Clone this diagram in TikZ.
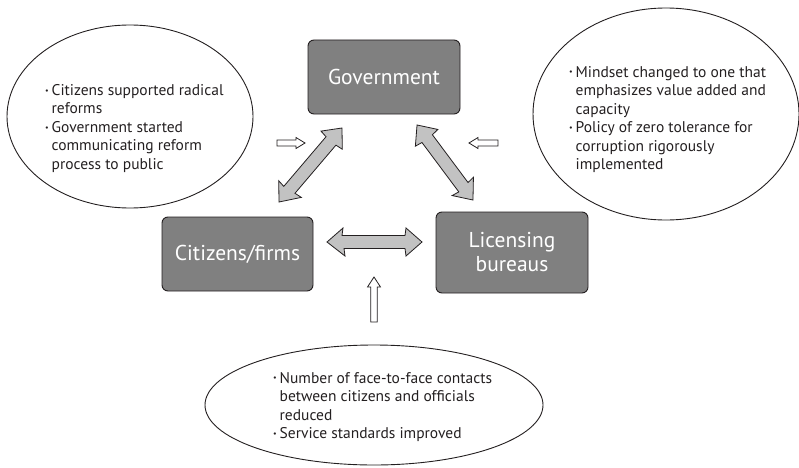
\documentclass[tikz,border=0pt]{standalone}
\usepackage{fontspec}
\setmainfont{PT Sans}
\usetikzlibrary{shapes.geometric}
\definecolor{boxgray}{HTML}{808080}
\definecolor{ink}{HTML}{231F20}
\definecolor{arrgray}{HTML}{C2C2C2}
\newcommand{\bul}{\makebox[6.5pt][l]{\raisebox{2.4pt}{\fontsize{8}{8}\selectfont\textbullet}}}
\newcommand{\cont}{\hspace*{6.5pt}}
\tikzset{
  x=1pt, y=1pt,
  actor/.style={draw=ink, fill=boxgray, rounded corners=6pt, line width=0.9pt,
    text=white, font=\fontsize{21.5}{24}\selectfont, align=center, inner sep=0pt},
  bubble/.style={draw=ink, line width=0.9pt, ellipse, inner sep=0pt},
  note/.style={text=ink, font=\fontsize{15.5}{18.5}\selectfont, align=left, inner sep=0pt, anchor=west},
  pics/dblarrow/.style={code={
    \path[draw=ink, fill=arrgray, line width=0.8pt, line join=miter]
      (-#1/2,0) -- ++(16,14) -- ++(-1,-7.5) -- (#1/2-17,6.5) -- ++(1,7.5) -- (#1/2,0)
      -- ++(-16,-14) -- ++(-1,7.5) -- (-#1/2+17,-6.5) -- ++(1,-7.5) -- cycle;
  }},
  pics/hollow/.style n args={4}{code={
    \path[draw=ink, fill=white, line width=0.8pt, line join=miter]
      (0,#2) -- (#1-#4,#2) -- (#1-#4,#3) -- (#1,0) -- (#1-#4,-#3) -- (#1-#4,-#2) -- (0,-#2) -- cycle;
  }},
}
\begin{document}
\begin{tikzpicture}
\useasboundingbox (0,0) rectangle (799,467);
% ellipses
\node[bubble, minimum width=246pt, minimum height=183pt] (lell) at (130,350.5) {};
\node[bubble, minimum width=266pt, minimum height=212pt] (rell) at (666,353) {};
\node[bubble, minimum width=338pt, minimum height=120pt] (bell) at (374,62) {};
% ellipse texts
\node[note] (ltext) at (45,338.5) {\bul Citizens supported radical\\ \cont reforms\\ \bul Government started\\ \cont communicating reform\\ \cont process to public};
\node[note] (rtext) at (569,347.5) {\bul Mindset changed to one that\\ \cont emphasizes value added and\\ \cont capacity\\ \bul Policy of zero tolerance for\\ \cont corruption rigorously\\ \cont implemented};
\node[note] (btext) at (273,60) {\bul Number of face-to-face contacts\\ \cont between citizens and officials\\ \cont reduced\\ \bul Service standards improved};
% boxes
\node[actor, minimum width=152pt, minimum height=74pt] (gov) at (384,390) {Government};
\node[actor, minimum width=151pt, minimum height=74pt] (cit) at (237.5,213) {Citizens/firms};
\node[actor, minimum width=152pt, minimum height=81pt] (lic) at (512,214.5) {Licensing\\bureaus};
% block arrows
\pic[rotate=49.6] at (310.5,302) {dblarrow=97.2};
\pic[rotate=126.7] at (445,304.5) {dblarrow=93.6};
\pic at (374.5,225) {dblarrow=95};
% hollow arrows
\pic at (277,324) {hollow={28}{3}{5.5}{9}};
\pic[rotate=180] at (498,324) {hollow={29}{3}{5.5}{9}};
\pic[rotate=90] at (374,145) {hollow={45}{3.3}{6.5}{10}};
\end{tikzpicture}
\end{document}
